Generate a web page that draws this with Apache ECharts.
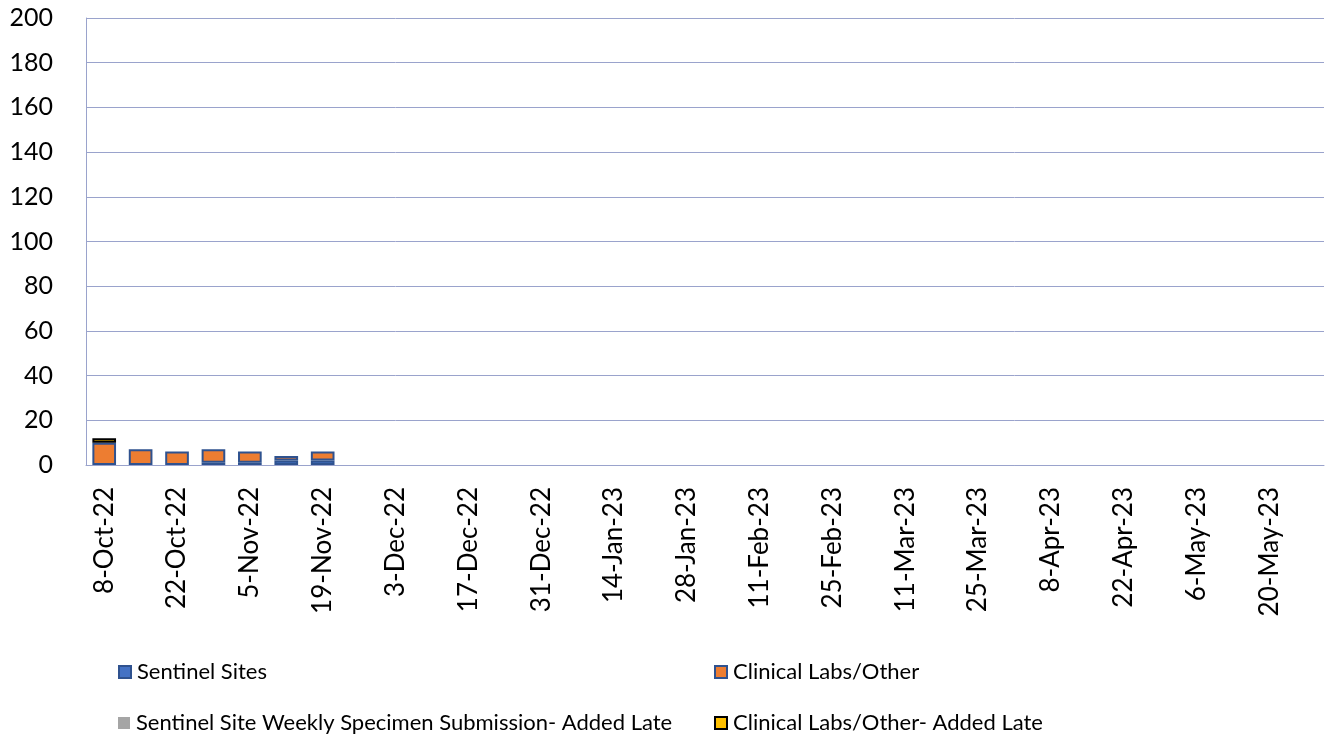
<!DOCTYPE html>
<html>
<head>
<meta charset="utf-8">
<script src="https://cdn.jsdelivr.net/npm/echarts@6/dist/echarts.min.js"></script>
<style>
  html, body { margin: 0; padding: 0; background: #fff; }
  #chart { width: 1331px; height: 736px; }
</style>
</head>
<body>
<div id="chart"></div>
<script>
const weeks = [
  '8-Oct-22', '15-Oct-22', '22-Oct-22', '29-Oct-22', '5-Nov-22', '12-Nov-22', '19-Nov-22',
  '26-Nov-22', '3-Dec-22', '10-Dec-22', '17-Dec-22', '24-Dec-22', '31-Dec-22', '7-Jan-23',
  '14-Jan-23', '21-Jan-23', '28-Jan-23', '4-Feb-23', '11-Feb-23', '18-Feb-23', '25-Feb-23',
  '4-Mar-23', '11-Mar-23', '18-Mar-23', '25-Mar-23', '1-Apr-23', '8-Apr-23', '15-Apr-23',
  '22-Apr-23', '29-Apr-23', '6-May-23', '13-May-23', '20-May-23', '27-May-23'
]
const sentinelSites = [0, 0, 0, 1, 1, 2, 2]
const clinicalLabs = [10, 7, 6, 6, 5, 2, 4]
const sentinelLate = [0, 0, 0, 0, 0, 0, 0]
const clinicalLate = [2, 0, 0, 0, 0, 0, 0]

const font = 'Lato, "Open Sans", sans-serif'
const gridColor = '#9aa3cc'

// zero-height segments would still show their border, so leave them empty
const bars = arr => arr.map(v => (v === 0 ? '-' : v))

function legendAt (name, left, top) {
  return {
    data: [name],
    left: left,
    top: top,
    icon: 'rect',
    itemWidth: 12,
    itemHeight: 12,
    itemGap: 4,
    textStyle: { fontFamily: font, fontSize: 22, color: '#000', padding: [0, 0, 0, 1] }
  }
}

const option = {
  animation: false,
  grid: { left: 86, right: 7, top: 18, bottom: 271 },
  legend: [
    legendAt('Sentinel Sites', 113, 656),
    legendAt('Clinical Labs/Other', 709, 656),
    legendAt('Sentinel Site Weekly Specimen Submission- Added Late', 113, 707),
    legendAt('Clinical Labs/Other- Added Late', 709, 707)
  ],
  xAxis: {
    type: 'category',
    data: weeks,
    axisLine: { show: true, lineStyle: { color: gridColor, width: 1 } },
    axisTick: { show: false },
    axisLabel: {
      interval: 1,
      rotate: 90,
      margin: 22,
      fontFamily: font,
      fontSize: 26,
      color: '#000'
    }
  },
  yAxis: {
    type: 'value',
    min: 0,
    max: 200,
    interval: 20,
    axisLine: { show: true, lineStyle: { color: gridColor } },
    axisTick: { show: false },
    splitLine: { lineStyle: { color: gridColor } },
    axisLabel: { margin: 33, fontFamily: font, fontSize: 25, color: '#000' }
  },
  series: [
    {
      name: 'Sentinel Sites',
      type: 'bar',
      stack: 'total',
      barCategoryGap: '35%',
      data: bars(sentinelSites),
      itemStyle: { color: '#4472c4', borderColor: '#2f528f', borderWidth: 2 }
    },
    {
      name: 'Clinical Labs/Other',
      type: 'bar',
      stack: 'total',
      data: bars(clinicalLabs),
      itemStyle: { color: '#ed7d31', borderColor: '#2f528f', borderWidth: 2 }
    },
    {
      name: 'Sentinel Site Weekly Specimen Submission- Added Late',
      type: 'bar',
      stack: 'total',
      data: bars(sentinelLate),
      itemStyle: { color: '#a5a5a5', borderColor: '#a5a5a5', borderWidth: 0 }
    },
    {
      name: 'Clinical Labs/Other- Added Late',
      type: 'bar',
      stack: 'total',
      data: bars(clinicalLate),
      itemStyle: { color: '#ffc000', borderColor: '#000', borderWidth: 2 }
    }
  ]
}

const myChart = echarts.init(document.getElementById('chart'))
myChart.setOption(option)
</script>
</body>
</html>
